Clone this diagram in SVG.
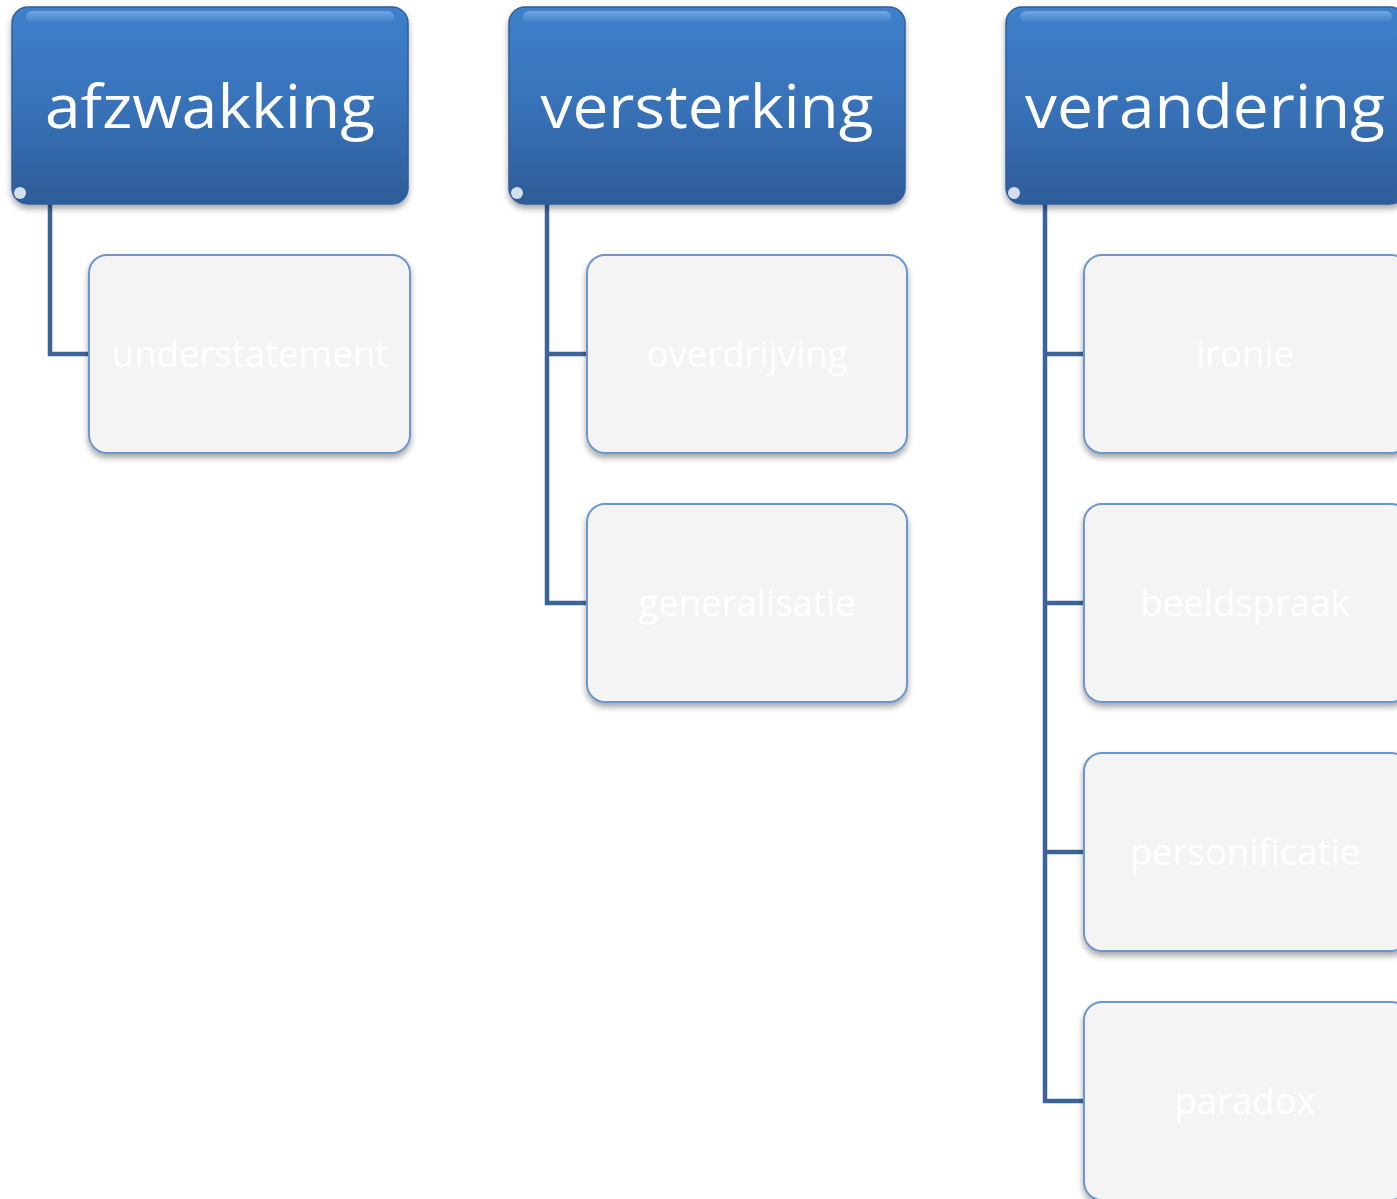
<svg xmlns="http://www.w3.org/2000/svg" width="1397" height="1199" viewBox="0 0 1397 1199">
<defs>
<linearGradient id="hg" x1="0" y1="0" x2="0" y2="1">
<stop offset="0" stop-color="#3f80cb"/>
<stop offset="0.5" stop-color="#3872b9"/>
<stop offset="1" stop-color="#2e5c98"/>
</linearGradient>
<linearGradient id="hl" x1="0" y1="0" x2="0" y2="1">
<stop offset="0" stop-color="#8fbff0" stop-opacity="0.6"/>
<stop offset="1" stop-color="#8fbff0" stop-opacity="0"/>
</linearGradient>
<filter id="sh" x="-10%" y="-10%" width="120%" height="125%">
<feGaussianBlur in="SourceAlpha" stdDeviation="3"/>
<feOffset dx="0" dy="4"/>
<feComponentTransfer><feFuncA type="linear" slope="0.35"/></feComponentTransfer>
<feMerge><feMergeNode/><feMergeNode in="SourceGraphic"/></feMerge>
</filter>
</defs>
<style>
.hdr{fill:url(#hg);stroke:#2f5f9f;stroke-width:1.5;filter:url(#sh)}
.hlt{fill:url(#hl)}
.gl{fill:#ffffff;opacity:0.8}
.ht{font-family:"Open Sans","Noto Sans",sans-serif;font-size:60px;fill:#ffffff;text-anchor:middle}
.ch{fill:#f4f4f4;stroke:#6c96cf;stroke-width:2;filter:url(#sh)}
.ct{font-family:"Open Sans","Noto Sans",sans-serif;font-size:36.5px;fill:#ffffff;text-anchor:middle}
.cn{fill:none;stroke:#3d6499;stroke-width:4.5}
</style>
<g id="connectors">
<path class="cn" d="M50 204 V354 H90"/>
<path class="cn" d="M547 204 V603 H588 M547 354 H588"/>
<path class="cn" d="M1045 204 V1101 H1085 M1045 354 H1085 M1045 603 H1085 M1045 852 H1085"/>
</g>
<g id="afzwakking">
<rect class="hdr" x="12" y="7" width="396" height="197" rx="16"/>
<rect class="hlt" x="26" y="11" width="368" height="12" rx="6"/>
<ellipse class="gl" cx="20" cy="193" rx="6" ry="6"/>
<text class="ht" x="210" y="128" textLength="330" lengthAdjust="spacingAndGlyphs">afzwakking</text>
</g>
<g id="versterking">
<rect class="hdr" x="509" y="7" width="396" height="197" rx="16"/>
<rect class="hlt" x="523" y="11" width="368" height="12" rx="6"/>
<ellipse class="gl" cx="517" cy="193" rx="6" ry="6"/>
<text class="ht" x="707" y="128" textLength="333" lengthAdjust="spacingAndGlyphs">versterking</text>
</g>
<g id="verandering">
<rect class="hdr" x="1006" y="7" width="400" height="197" rx="16"/>
<rect class="hlt" x="1020" y="11" width="372" height="12" rx="6"/>
<ellipse class="gl" cx="1014" cy="193" rx="6" ry="6"/>
<text class="ht" x="1205" y="128" textLength="360" lengthAdjust="spacingAndGlyphs">verandering</text>
</g>
<g id="understatement">
<rect class="ch" x="89" y="255" width="321" height="198" rx="18"/>
<text class="ct" x="250" y="367">understatement</text>
</g>
<g id="overdrijving">
<rect class="ch" x="587" y="255" width="320" height="198" rx="18"/>
<text class="ct" x="747" y="367">overdrijving</text>
</g>
<g id="generalisatie">
<rect class="ch" x="587" y="504" width="320" height="198" rx="18"/>
<text class="ct" x="747" y="616">generalisatie</text>
</g>
<g id="ironie">
<rect class="ch" x="1084" y="255" width="325" height="198" rx="18"/>
<text class="ct" x="1245" y="367">ironie</text>
</g>
<g id="beeldspraak">
<rect class="ch" x="1084" y="504" width="325" height="198" rx="18"/>
<text class="ct" x="1245" y="616">beeldspraak</text>
</g>
<g id="personificatie">
<rect class="ch" x="1084" y="753" width="325" height="198" rx="18"/>
<text class="ct" x="1245" y="865">personificatie</text>
</g>
<g id="paradox">
<rect class="ch" x="1084" y="1002" width="325" height="198" rx="18"/>
<text class="ct" x="1245" y="1114">paradox</text>
</g>
</svg>
